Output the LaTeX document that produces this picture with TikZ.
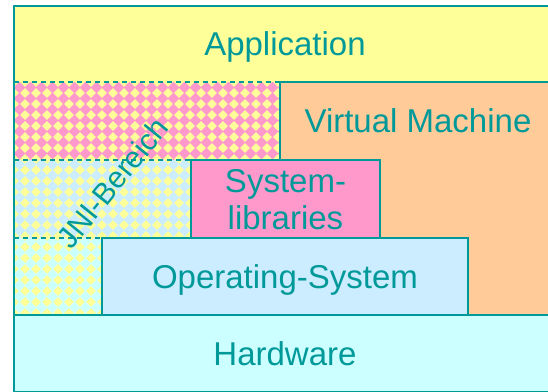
\documentclass[tikz,border=0pt]{standalone}
\usepackage{fontspec}
\setmainfont{Liberation Sans}
\usepackage{tikz}

\definecolor{lineteal}{HTML}{009999}
\definecolor{appyellow}{HTML}{FFFF99}
\definecolor{vmorange}{HTML}{FFCC99}
\definecolor{libpink}{HTML}{FF99CC}
\definecolor{osblue}{HTML}{CCECFF}
\definecolor{hwcyan}{HTML}{CCFFFF}

\tikzset{
  layer/.style={rectangle, inner sep=0pt, outer sep=0pt},
  lbl/.style={text=lineteal, font=\fontsize{33}{37}\selectfont, align=center, text depth=0pt},
  box/.style={layer, lbl, draw=lineteal, line width=2.6pt},
  jniline/.style={draw=lineteal, line width=2pt, dash pattern=on 5pt off 4pt},
}

\begin{document}
\begin{tikzpicture}[x=1pt,y=-1pt]
        \useasboundingbox (0,0) rectangle (548,391);

        \node[layer, lbl, fill=appyellow, minimum width=542pt, minimum height=76pt] (app) at (285,44) {Application};
        \node[layer, fill=libpink, minimum width=266pt, minimum height=78pt] (jnivm) at (147,121) {};
        \node[layer, fill=osblue, minimum width=177pt, minimum height=78pt] (jnilib) at (102.5,199) {};
        \node[layer, fill=hwcyan, minimum width=88pt, minimum height=77pt] (jnios) at (58,276.5) {};

        % yellow diamonds over the whole JNI area
        \begin{scope}
            \clip (jnivm.north west) -- (jnivm.north east) -- (jnivm.south east) -- (jnilib.north east)
                -- (jnilib.south east) -- (jnios.north east) -- (jnios.south east) -- (jnios.south west) -- cycle;
            \foreach \r in {0,...,21}
                \foreach \c in {0,...,24}
                    \fill[appyellow] ({14+11*\c},{82+11*\r}) +(-4.8,0) -- +(0,-4.8) -- +(4.8,0) -- +(0,4.8) -- cycle;
        \end{scope}

        \node[box, fill=vmorange, minimum width=276pt, minimum height=233pt] (vm) at (418,198.5) {};
        \node[box, fill=libpink, minimum width=189pt, minimum height=78pt] (syslib) at (285.5,199) {System-\\libraries};
        \node[box, fill=osblue, minimum width=366pt, minimum height=77pt] (os) at (285,276.5) {Operating-System};
        \node[box, fill=hwcyan, minimum width=542pt, minimum height=77pt] (hw) at (285,353.5) {Hardware};
        \node[lbl] (vmtext) at (418,121) {Virtual Machine};

        \draw[line width=2.6pt, lineteal] (jnios.south west) -- (app.north west) -- (app.north east) -- (app.south east);
        \draw[jniline] (jnivm.north west) -- (jnivm.north east);
        \draw[jniline] (jnilib.north west) -- (jnilib.north east);
        \draw[jniline] (jnios.north west) -- (jnios.north east);

        \node[lbl, font=\fontsize{30}{30}\selectfont, rotate=51] (jni) at (112.5,182.5) {JNI-Bereich};
    \end{tikzpicture}
\end{document}
